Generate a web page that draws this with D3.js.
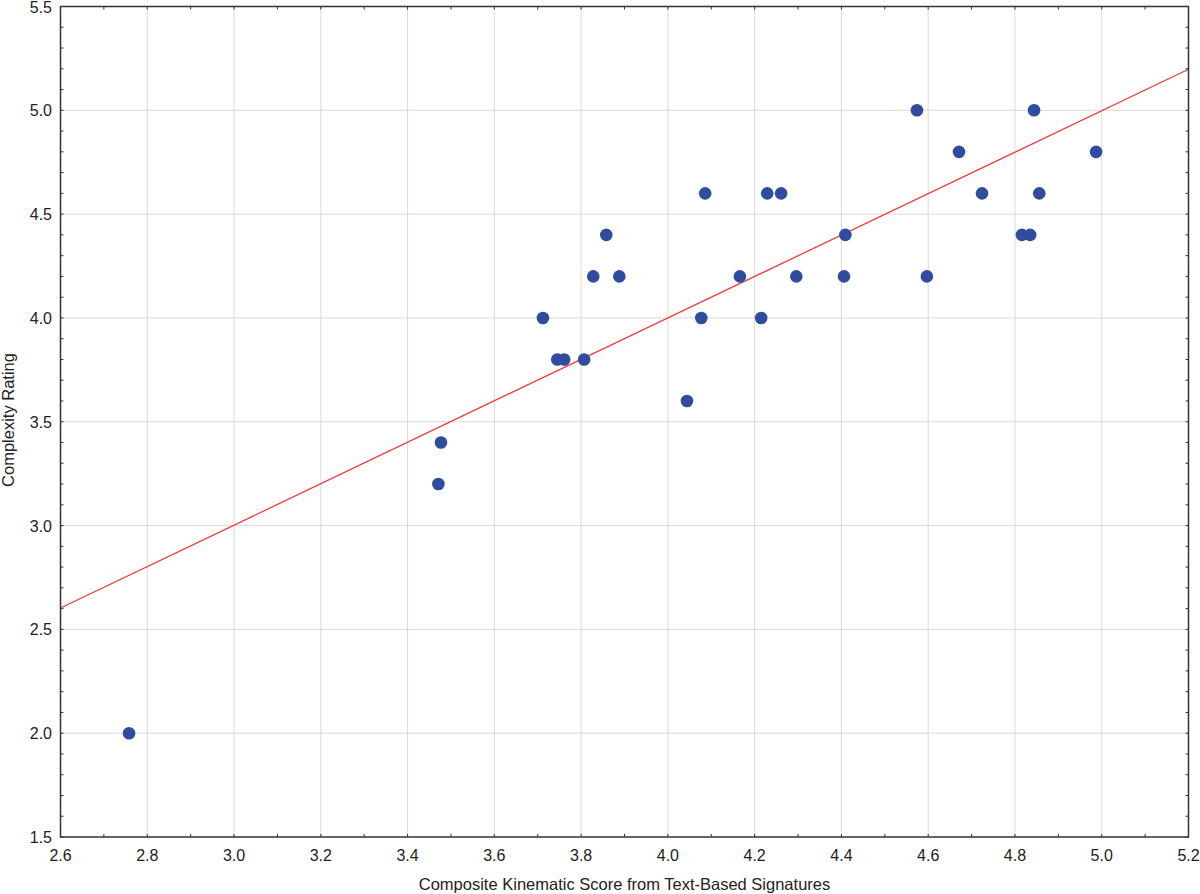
<!DOCTYPE html>
<html lang="en">
<head>
    <meta charset="UTF-8">
    <title>Complexity Rating vs Composite Kinematic Score</title>
    <script src="https://d3js.org/d3.v7.min.js"></script>
    <style>
        body { margin: 0; background: white; }
        svg { display: block; }
        text { font-family: "Liberation Sans", Arial, sans-serif; fill: #222; }
        .grid line { stroke: #dadada; stroke-width: 1; }
        .frame { fill: none; stroke: #333; stroke-width: 1.5; }
        .tick-mark { stroke: #333; stroke-width: 1; }
        .dot { fill: #2f4c9f; }
        .fit { stroke: #f23a3a; stroke-width: 1.3; fill: none; }
    </style>
</head>
<body>
<svg width="1200" height="894"></svg>
<script>
    // data
    var scoreX = [2.758, 3.471, 3.477, 3.712, 3.745, 3.761, 3.807, 3.828, 3.858, 3.888,
                  4.044, 4.077, 4.086, 4.166, 4.215, 4.229, 4.261, 4.296, 4.406, 4.409,
                  4.574, 4.597, 4.671, 4.724, 4.816, 4.835, 4.844, 4.856, 4.987];
    var ratingY = [2.0, 3.2, 3.4, 4.0, 3.8, 3.8, 3.8, 4.2, 4.4, 4.2,
                   3.6, 4.0, 4.6, 4.2, 4.0, 4.6, 4.6, 4.2, 4.2, 4.4,
                   5.0, 4.2, 4.8, 4.6, 4.4, 4.4, 5.0, 4.6, 4.8];
    var xTicks = [2.6, 2.8, 3.0, 3.2, 3.4, 3.6, 3.8, 4.0, 4.2, 4.4, 4.6, 4.8, 5.0, 5.2];
    var yTicks = [1.5, 2.0, 2.5, 3.0, 3.5, 4.0, 4.5, 5.0, 5.5];
    var xMinor = d3.range(26, 53, 1).map(function(d) { return d / 10; });
    var yMinor = d3.range(15, 56, 1).map(function(d) { return d / 10; });
    var fitSlope = 0.998, fitIntercept = 0.008;
    var xTitle = "Composite Kinematic Score from Text-Based Signatures";
    var yTitle = "Complexity Rating";

    var svg = d3.select("svg");
    var pLeft = 60.5, pRight = 1188.5, pTop = 6.5, pBottom = 837;

    var x = d3.scaleLinear().domain([2.6, 5.2]).range([pLeft, pRight]);
    var y = d3.scaleLinear().domain([1.5, 5.5]).range([pBottom, pTop]);

    // gridlines
    var grid = svg.append("g").attr("class", "grid");
    grid.selectAll(".gx").data(xTicks.slice(1, -1)).enter().append("line")
        .attr("x1", function(d) { return x(d); }).attr("x2", function(d) { return x(d); })
        .attr("y1", pTop).attr("y2", pBottom);
    grid.selectAll(".gy").data(yTicks.slice(1, -1)).enter().append("line")
        .attr("y1", function(d) { return y(d); }).attr("y2", function(d) { return y(d); })
        .attr("x1", pLeft).attr("x2", pRight);

    // inward ticks on all four sides
    var ticks = svg.append("g");
    xMinor.forEach(function(d) {
        ticks.append("line").attr("class", "tick-mark")
            .attr("x1", x(d)).attr("x2", x(d)).attr("y1", pBottom).attr("y2", pBottom - 3);
        ticks.append("line").attr("class", "tick-mark")
            .attr("x1", x(d)).attr("x2", x(d)).attr("y1", pTop).attr("y2", pTop + 3);
    });
    yMinor.forEach(function(d) {
        ticks.append("line").attr("class", "tick-mark")
            .attr("y1", y(d)).attr("y2", y(d)).attr("x1", pLeft).attr("x2", pLeft + 3);
        ticks.append("line").attr("class", "tick-mark")
            .attr("y1", y(d)).attr("y2", y(d)).attr("x1", pRight).attr("x2", pRight - 3);
    });

    // regression line
    svg.append("line").attr("class", "fit")
        .attr("x1", x(2.6)).attr("y1", y(fitIntercept + fitSlope * 2.6))
        .attr("x2", x(5.2)).attr("y2", y(fitIntercept + fitSlope * 5.2));

    // points
    svg.selectAll(".dot").data(scoreX).enter().append("circle")
        .attr("class", "dot")
        .attr("cx", function(d) { return x(d); })
        .attr("cy", function(d, i) { return y(ratingY[i]); })
        .attr("r", 6.3);

    // frame
    svg.append("rect").attr("class", "frame")
        .attr("x", pLeft).attr("y", pTop)
        .attr("width", pRight - pLeft).attr("height", pBottom - pTop);

    // tick labels
    svg.selectAll(".xl").data(xTicks).enter().append("text")
        .attr("x", function(d) { return x(d); })
        .attr("y", 861)
        .attr("text-anchor", "middle")
        .attr("font-size", "16px")
        .text(function(d) { return d.toFixed(1); });
    svg.selectAll(".yl").data(yTicks).enter().append("text")
        .attr("x", 52)
        .attr("y", function(d) { return y(d) + 6; })
        .attr("text-anchor", "end")
        .attr("font-size", "16px")
        .text(function(d) { return d.toFixed(1); });

    // axis titles
    svg.append("text")
        .attr("x", 624.5)
        .attr("y", 890)
        .attr("text-anchor", "middle")
        .attr("font-size", "16.5px")
        .text(xTitle);
    svg.append("text")
        .attr("transform", "translate(14," + 420 + ") rotate(-90)")
        .attr("text-anchor", "middle")
        .attr("font-size", "16.5px")
        .text(yTitle);
</script>
</body>
</html>
